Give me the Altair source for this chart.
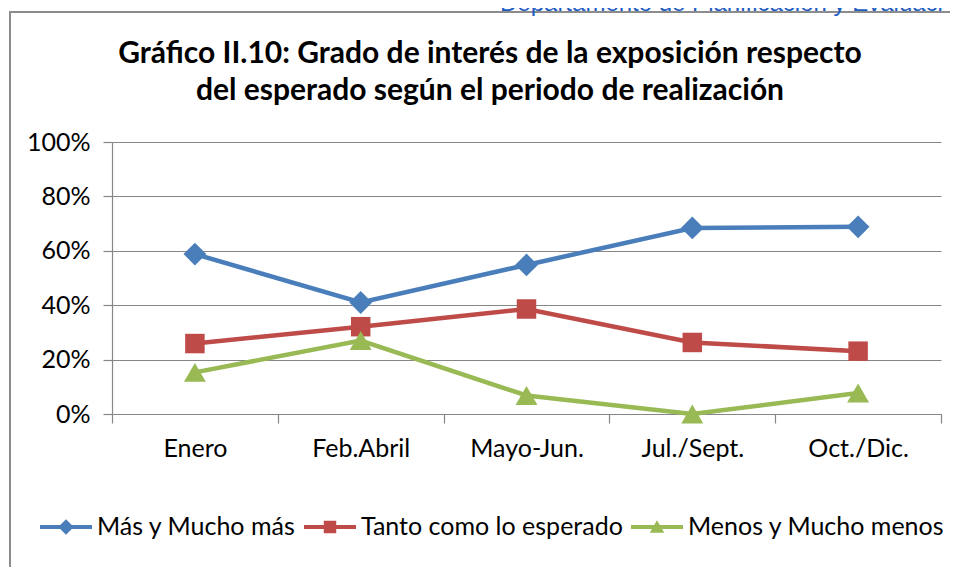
import altair as alt
import pandas as pd

# ---- data ----
periods = ["Enero", "Feb.Abril", "Mayo-Jun.", "Jul./Sept.", "Oct./Dic."]
series_names = ["Más y Mucho más", "Tanto como lo esperado", "Menos y Mucho menos"]
mas = [58.8, 41.0, 54.8, 68.4, 68.8]
tanto = [25.9, 32.1, 38.6, 26.3, 23.1]
menos = [15.3, 27.0, 6.8, 0.0, 7.7]
colors = ["#4A7EBB", "#BE4B48", "#98B954"]
y_ticks = [0, 0.2, 0.4, 0.6, 0.8, 1.0]

title_text = ("Gráfico II.10: Grado de interés de la exposición respecto\n"
              "del esperado según el periodo de realización")
header_text = "Departamento de Planificación y Evaluación"

rows = []
for name, vals in zip(series_names, [mas, tanto, menos]):
    for p, v in zip(periods, vals):
        rows.append({"periodo": p, "serie": name, "valor": v / 100})
df = pd.DataFrame(rows)

FONT = "Lato"
W, H = 829, 272
GRAY = "#868686"

x_enc = alt.X(
    "periodo:N", sort=periods,
    scale=alt.Scale(type="band", paddingInner=0, paddingOuter=0),
    axis=alt.Axis(title=None, labelAngle=0, tickBand="extent", tickSize=9,
                  labelPadding=13, grid=False, labelFontSize=25),
)
y_enc = alt.Y(
    "valor:Q", scale=alt.Scale(domain=[0, 1]),
    axis=alt.Axis(title=None, format=".0%", values=y_ticks, tickSize=9,
                  labelPadding=13, grid=True, labelFontSize=25),
)
# data-driven (sorted) domain for the drawing colours, legend drawn separately
color_enc = alt.Color("serie:N", sort=series_names, scale=alt.Scale(range=colors),
                      legend=None)

base = alt.Chart(df)

lines = base.mark_line(strokeWidth=4.5).encode(x=x_enc, y=y_enc, color=color_enc)

marker_shapes = ["diamond", "square", "triangle-up"]
marker_sizes = [520, 380, 480]
points = []
for name, shp, sz in zip(series_names, marker_shapes, marker_sizes):
    points.append(
        base.transform_filter(alt.datum.serie == name)
        .mark_point(shape=shp, filled=True, size=sz, opacity=1, strokeWidth=0)
        .encode(x=x_enc, y=y_enc, color=color_enc)
    )

# legend symbols: line segment + marker (custom paths in [-1, 1])
legend_paths = [
    "M-1,-0.08H1V0.08H-1Z M0,-0.3L0.3,0L0,0.3L-0.3,0Z",
    "M-1,-0.08H1V0.08H-1Z M-0.24,-0.24H0.24V0.24H-0.24Z",
    "M-1,-0.08H1V0.08H-1Z M0,-0.26L0.28,0.22L-0.28,0.22Z",
]
leg = alt.Legend(
    title=None, orient="none", legendX=-72, legendY=359, direction="horizontal",
    labelFont=FONT, labelFontSize=25, labelColor="#000000", labelOffset=5,
    columnPadding=8, padding=0, symbolSize=2704, symbolStrokeWidth=0,
    symbolOpacity=1, labelLimit=400,
)
# legend-only layer: its marks sit far outside the drawing, only the legend shows
legend_layer = (
    base.mark_point(filled=True, opacity=1, strokeWidth=0, size=2704)
    .encode(
        x=alt.value(-3000), y=alt.value(-3000),
        fill=alt.Fill("serie:N", scale=alt.Scale(domain=series_names, range=colors), legend=leg),
        shape=alt.Shape("serie:N", scale=alt.Scale(domain=series_names, range=legend_paths), legend=leg),
    )
)

one = alt.Data(values=[{}])
# chart-area border: only its left and top edges fall inside the window
frame_left = alt.Chart(one).mark_rule(stroke="#8C8C8C", strokeWidth=2).encode(
    x=alt.value(-102), y=alt.value(-131), y2=alt.value(441)
)
frame_top = alt.Chart(one).mark_rule(stroke="#8C8C8C", strokeWidth=2).encode(
    x=alt.value(-103), x2=alt.value(846), y=alt.value(-130)
)
header = alt.Chart(one).mark_text(
    text=header_text, font="Liberation Sans", fontSize=24, color="#1F5DC0",
    align="left", baseline="alphabetic", limit=452, ellipsis="\u200b"
).encode(x=alt.value(388), y=alt.value(-131))
title = alt.Chart(one).mark_text(
    text=title_text, lineBreak="\n", font=FONT, fontSize=30, fontWeight="bold",
    color="#000000", align="center", baseline="alphabetic", lineHeight=37
).encode(x=alt.value(378), y=alt.value(-79))

chart = (
    alt.layer(frame_left, frame_top, header, title, lines, *points, legend_layer)
    .properties(
        width=W, height=H,
        autosize=alt.AutoSizeParams(type="none"),
        padding={"left": 104, "top": 134, "right": 9, "bottom": 153},
    )
    .configure_view(stroke=None)
    .configure_axis(
        domainColor=GRAY, tickColor=GRAY, gridColor=GRAY, domainWidth=1.2,
        gridWidth=1.2, tickWidth=1.2, labelFont=FONT, labelColor="#000000",
    )
)

chart.save("out.html", embed_options={"renderer": "svg", "actions": False})
